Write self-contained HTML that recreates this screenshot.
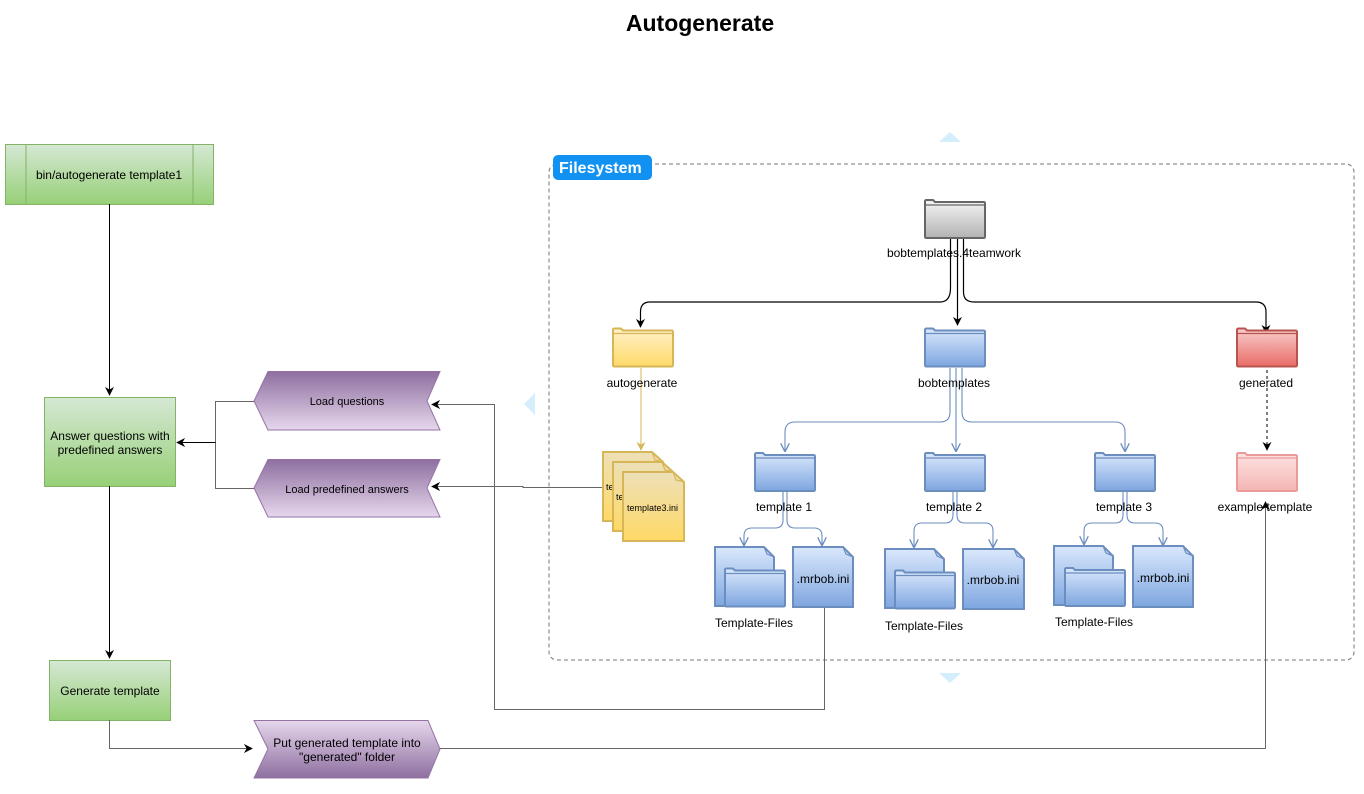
<!DOCTYPE html>
<html><head><meta charset="utf-8"><style>
html,body{margin:0;padding:0;background:#fff;}
svg{display:block;font-family:"Liberation Sans",Helvetica,Arial,sans-serif;}
</style></head><body>
<svg width="1364" height="794" viewBox="0 0 1364 794" xmlns="http://www.w3.org/2000/svg">
<defs>
<linearGradient id="gG" x1="0" y1="0" x2="0" y2="1"><stop offset="0" stop-color="#d5e8d4"/><stop offset="1" stop-color="#97d077"/></linearGradient>
<linearGradient id="gP" x1="0" y1="0" x2="0" y2="1"><stop offset="0" stop-color="#8e6fa0"/><stop offset="1" stop-color="#e6d7ec"/></linearGradient>
<linearGradient id="gP2" x1="0" y1="0" x2="0" y2="1"><stop offset="0" stop-color="#e6d7ec"/><stop offset="1" stop-color="#8e6fa0"/></linearGradient>
<linearGradient id="gB" x1="0" y1="0" x2="0" y2="1"><stop offset="0" stop-color="#dae8fc"/><stop offset="1" stop-color="#7ea6e0"/></linearGradient>
<linearGradient id="gY" x1="0" y1="0" x2="0" y2="1"><stop offset="0" stop-color="#fff2cc"/><stop offset="1" stop-color="#ffd966"/></linearGradient>
<linearGradient id="gYd" x1="0" y1="0" x2="0" y2="1"><stop offset="0" stop-color="#ede0b8"/><stop offset="1" stop-color="#ffd966"/></linearGradient>
<linearGradient id="gR" x1="0" y1="0" x2="0" y2="1"><stop offset="0" stop-color="#f8cecc"/><stop offset="1" stop-color="#ea6b66"/></linearGradient>
<linearGradient id="gR2" x1="0" y1="0" x2="0" y2="1"><stop offset="0" stop-color="#fce4e3"/><stop offset="1" stop-color="#f4b5b3"/></linearGradient>
<linearGradient id="gK" x1="0" y1="0" x2="0" y2="1"><stop offset="0" stop-color="#f5f5f5"/><stop offset="1" stop-color="#b3b3b3"/></linearGradient>
<marker id="ak" viewBox="0 0 10 10" refX="9" refY="5" markerWidth="9" markerHeight="9" orient="auto-start-reverse" markerUnits="userSpaceOnUse"><path d="M0,0 L10,5 L0,10 L3,5 Z" fill="#000"/></marker>
<marker id="ab" viewBox="0 0 10 10" refX="9" refY="5" markerWidth="9" markerHeight="9" orient="auto" markerUnits="userSpaceOnUse"><path d="M0,0 L10,5 L0,10" fill="none" stroke="#6c8ebf" stroke-width="1.5"/></marker>
<marker id="ay" viewBox="0 0 10 10" refX="9" refY="5" markerWidth="9" markerHeight="9" orient="auto" markerUnits="userSpaceOnUse"><path d="M0,0 L10,5 L0,10 L3,5 Z" fill="#d6b656"/></marker>
<symbol id="fold" viewBox="0 0 62 40" overflow="visible">
<path d="M1,6 V2.5 Q1,1 2.5,1 H9 L11,3 H59.5 Q61,3 61,4.5 V37.5 Q61,39 59.5,39 H2.5 Q1,39 1,37.5 Z" stroke-width="2"/>
<path d="M1,6 H61" fill="none" stroke-width="1.2"/>
</symbol>
</defs>

<text x="700" y="31" text-anchor="middle" font-size="23" font-weight="bold">Autogenerate</text>

<path d="M939,142 L950,132 L961,142 Z" fill="#d4eefb"/>
<path d="M939,673 L950,683 L961,673 Z" fill="#d4eefb"/>
<path d="M535,393 L524,404 L535,415 Z" fill="#d4eefb"/>

<rect x="549" y="164" width="805" height="496" rx="8" fill="none" stroke="#777" stroke-dasharray="4,3"/>
<rect x="553" y="155" width="99" height="25" rx="5" fill="#1191f2"/>
<text x="559" y="173" font-size="16" font-weight="bold" fill="#fff">Filesystem</text>

<rect x="5.5" y="144.5" width="208" height="60" fill="url(#gG)" stroke="#82b366"/>
<path d="M26,144.5 V204.5 M193,144.5 V204.5" stroke="#82b366"/>
<text x="109" y="179" text-anchor="middle" font-size="12">bin/autogenerate template1</text>

<rect x="44.5" y="397.5" width="131" height="89" fill="url(#gG)" stroke="#82b366"/>
<text x="110" y="440" text-anchor="middle" font-size="12">Answer questions with</text>
<text x="110" y="454" text-anchor="middle" font-size="12">predefined answers</text>

<rect x="49.5" y="660.5" width="121" height="60" fill="url(#gG)" stroke="#82b366"/>
<text x="110" y="695" text-anchor="middle" font-size="12">Generate template</text>

<path d="M254,401 L268,371.5 H440 L427,401 L440,430 H268 Z" fill="url(#gP)" stroke="#9673a6"/>
<text x="347" y="405" text-anchor="middle" font-size="11">Load questions</text>
<path d="M254,488 L268,459.5 H440 L427,488 L440,517 H268 Z" fill="url(#gP)" stroke="#9673a6"/>
<text x="347" y="493" text-anchor="middle" font-size="11">Load predefined answers</text>
<path d="M254,720.5 H428 L440,749 L428,778 H254 L268,749 Z" fill="url(#gP2)" stroke="#9673a6"/>
<text x="347" y="747" text-anchor="middle" font-size="12">Put generated template into</text>
<text x="347" y="761" text-anchor="middle" font-size="12">"generated" folder</text>

<g fill="none" stroke-width="1">
<path d="M109.5,204 V395" stroke="#000" marker-end="url(#ak)"/>
<path d="M109.5,486 V658" stroke="#000" marker-end="url(#ak)"/>
<path d="M254,401.5 H215.5 V488.5 H254" stroke="#666"/>
<path d="M215.5,442.5 H177" stroke="#000" marker-end="url(#ak)"/>
<path d="M109.5,720 V748.5 H252" stroke="#666" marker-end="url(#ak)"/>
<path d="M440,748.5 H1265.5 V502" stroke="#666" marker-end="url(#ak)"/>
<path d="M824.5,607 V709.5 H494.5 V404.5 H432" stroke="#666" marker-end="url(#ak)"/>
<path d="M602,487.5 H523 V486.5 H432" stroke="#666" marker-end="url(#ak)"/>
</g>

<g fill="none" stroke="#000" stroke-width="1.2">
<path d="M950.5,238 V288 Q950.5,302 940,302 H650 Q640.5,302 640.5,312 V327" marker-end="url(#ak)"/>
<path d="M957.5,238 V325" marker-end="url(#ak)"/>
<path d="M963.5,238 V292 Q963.5,302 974,302 H1256 Q1266,302 1266,312 V333" marker-end="url(#ak)"/>
</g>
<path d="M1267,370 V450" stroke="#000" stroke-dasharray="3,3" fill="none" marker-end="url(#ak)"/>
<path d="M641,368 V450" stroke="#d6b656" fill="none" marker-end="url(#ay)"/>

<g fill="none" stroke="#6c8ebf" stroke-width="1.1">
<path d="M950,368 V412 Q950,422 940,422 H795 Q785,422 785,432 V451" marker-end="url(#ab)"/>
<path d="M956,368 V451" marker-end="url(#ab)"/>
<path d="M962,368 V412 Q962,422 972,422 H1115 Q1125,422 1125,432 V451" marker-end="url(#ab)"/>
<path d="M783,492 V520 Q783,528 775,528 H752 Q744,528 744,536 V545" marker-end="url(#ab)"/>
<path d="M787,492 V520 Q787,528 795,528 H814 Q822,528 822,536 V545" marker-end="url(#ab)"/>
<path d="M953,492 V515 Q953,523 945,523 H922 Q914,523 914,531 V547" marker-end="url(#ab)"/>
<path d="M957,492 V515 Q957,523 965,523 H985 Q993,523 993,531 V547" marker-end="url(#ab)"/>
<path d="M1123,492 V515 Q1123,523 1115,523 H1092 Q1084,523 1084,531 V544" marker-end="url(#ab)"/>
<path d="M1127,492 V515 Q1127,523 1135,523 H1155 Q1163,523 1163,531 V545" marker-end="url(#ab)"/>
</g>

<use href="#fold" x="924" y="199" width="62" height="40" fill="url(#gK)" stroke="#666"/>
<use href="#fold" x="612" y="327" width="62" height="41" fill="url(#gY)" stroke="#d6b656"/>
<use href="#fold" x="924" y="327" width="62" height="41" fill="url(#gB)" stroke="#6c8ebf"/>
<use href="#fold" x="1236" y="327" width="62" height="41" fill="url(#gR)" stroke="#b85450"/>
<use href="#fold" x="754" y="452" width="62" height="40" fill="url(#gB)" stroke="#6c8ebf"/>
<use href="#fold" x="924" y="452" width="62" height="40" fill="url(#gB)" stroke="#6c8ebf"/>
<use href="#fold" x="1094" y="452" width="62" height="40" fill="url(#gB)" stroke="#6c8ebf"/>
<use href="#fold" x="1236" y="452" width="62" height="40" fill="url(#gR2)" stroke="#ea9a98"/>

<g font-size="12" text-anchor="middle">
<text x="954" y="257">bobtemplates.4teamwork</text>
<text x="642" y="387">autogenerate</text>
<text x="954" y="387">bobtemplates</text>
<text x="1266" y="387">generated</text>
<text x="784" y="511">template 1</text>
<text x="954" y="511">template 2</text>
<text x="1124" y="511">template 3</text>
<text x="1265" y="511">example template</text>
</g>

<g stroke="#d6b656" stroke-width="2" font-size="9">
<path d="M603,452 H652 L663,462 V521 H603 Z" fill="url(#gYd)"/>
<path d="M652,452 L655,460 L663,462" fill="none" stroke-width="1.2"/>
<text x="606" y="490" stroke="none">template1.ini</text>
<path d="M613,462 H662 L673,472 V531 H613 Z" fill="url(#gYd)"/>
<path d="M662,462 L665,470 L673,472" fill="none" stroke-width="1.2"/>
<text x="616" y="500" stroke="none">template2.ini</text>
<path d="M623,472 H673 L684,482 V541 H623 Z" fill="url(#gYd)"/>
<path d="M673,472 L676,480 L684,482" fill="none" stroke-width="1.2"/>
<text x="627" y="511" stroke="none">template3.ini</text>
</g>

<g stroke="#6c8ebf" stroke-width="2">
<path d="M715,547 H764 L774,557 V606 H715 Z" fill="url(#gB)"/>
<path d="M764,547 L767,554 L774,557" fill="none" stroke-width="1.2"/>
<use href="#fold" x="724" y="567" width="62" height="41" fill="url(#gB)" stroke="#6c8ebf"/>
<path d="M793,547 H843 L853,557 V607 H793 Z" fill="url(#gB)"/>
<path d="M843,547 L846,554 L853,557" fill="none" stroke-width="1.2"/>
<path d="M885,549 H934 L944,559 V608 H885 Z" fill="url(#gB)"/>
<path d="M934,549 L937,556 L944,559" fill="none" stroke-width="1.2"/>
<use href="#fold" x="894" y="569" width="62" height="41" fill="url(#gB)" stroke="#6c8ebf"/>
<path d="M963,549 H1014 L1024,559 V609 H963 Z" fill="url(#gB)"/>
<path d="M1014,549 L1017,556 L1024,559" fill="none" stroke-width="1.2"/>
<path d="M1054,546 H1103 L1113,556 V605 H1054 Z" fill="url(#gB)"/>
<path d="M1103,546 L1106,553 L1113,556" fill="none" stroke-width="1.2"/>
<use href="#fold" x="1064" y="567" width="62" height="40" fill="url(#gB)" stroke="#6c8ebf"/>
<path d="M1133,546 H1183 L1193,556 V607 H1133 Z" fill="url(#gB)"/>
<path d="M1183,546 L1186,553 L1193,556" fill="none" stroke-width="1.2"/>
</g>
<g font-size="12" text-anchor="middle">
<text x="823" y="583">.mrbob.ini</text>
<text x="993" y="584">.mrbob.ini</text>
<text x="1163" y="582">.mrbob.ini</text>
<text x="754" y="627">Template-Files</text>
<text x="924" y="630">Template-Files</text>
<text x="1094" y="626">Template-Files</text>
</g>
</svg>
</body></html>
